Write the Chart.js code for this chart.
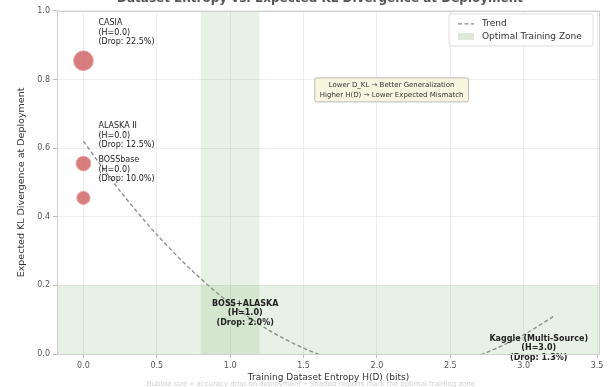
<!DOCTYPE html>
<html>
<head>
<meta charset="utf-8">
<script src="https://cdn.jsdelivr.net/npm/chart.js@4.4.0/dist/chart.umd.min.js"></script>
<style>
  html, body { margin: 0; padding: 0; background: #fff; }
  canvas { display: block; }
</style>
</head>
<body>
<canvas id="klChart" width="611" height="387"></canvas>
<script>
// training datasets
const datasetNames = ['CASIA', 'ALASKA II', 'BOSSbase', 'BOSS+ALASKA', 'Kaggle (Multi-Source)'];
const entropyBits = [0.0, 0.0, 0.0, 1.0, 3.0];
const expectedKL = [0.855, 0.555, 0.455, 0.147, 0.045];
const accuracyDrop = [22.5, 12.5, 10.0, 2.0, 1.3];

// dashed trend
const trendX = [0.0, 0.25, 0.5, 0.75, 1.0, 1.25, 1.5, 1.75, 2.0, 2.25, 2.5, 2.75, 3.0, 3.2];
const trendY = [0.620, 0.475, 0.348, 0.239, 0.147, 0.073, 0.017, -0.021, -0.041, -0.044, -0.028, 0.005, 0.056, 0.109];

// shaded zones
const optimalEntropy = [0.8, 1.2];
const optimalKL = [0.0, 0.2];

// axis ticks
const xTicks = [0.0, 0.5, 1.0, 1.5, 2.0, 2.5, 3.0, 3.5];
const yTicks = [0.0, 0.2, 0.4, 0.6, 0.8, 1.0];

const FONT = '"DejaVu Sans", sans-serif';
const zoneColor = 'rgba(120,170,100,0.17)';

function inZone(i) {
    return expectedKL[i] < optimalKL[1];
}

// bands, labels, note box, legend, title
const overlay = {
    id: 'overlay',
    beforeDraw(chart) {
        const ctx = chart.ctx;
        ctx.save();
        ctx.font = '7px ' + FONT;
        ctx.fillStyle = '#cfcfcf';
        ctx.textAlign = 'center';
        ctx.textBaseline = 'middle';
        ctx.fillText('Bubble size \u221d accuracy drop on deployment \u2022 Shaded regions mark the optimal training zone', 311, 384);
        ctx.restore();
    },
    beforeDatasetsDraw(chart) {
        const { ctx, chartArea: a, scales: { x, y } } = chart;
        ctx.save();
        ctx.fillStyle = zoneColor;
        const x0 = x.getPixelForValue(optimalEntropy[0]);
        const x1 = x.getPixelForValue(optimalEntropy[1]);
        ctx.fillRect(x0, a.top, x1 - x0, a.bottom - a.top);
        const y0 = y.getPixelForValue(optimalKL[0]);
        const y1 = y.getPixelForValue(optimalKL[1]);
        ctx.fillRect(a.left, y1, a.right - a.left, y0 - y1);
        ctx.restore();
    },
    afterDatasetsDraw(chart) {
        const { ctx, chartArea: a, scales: { x, y } } = chart;
        ctx.save();

        // point labels
        const lh = 9.5;
        entropyBits.forEach((h, i) => {
            const px = x.getPixelForValue(h);
            const py = y.getPixelForValue(expectedKL[i]);
            const lines = [datasetNames[i], '(H=' + h.toFixed(1) + ')', '(Drop: ' + accuracyDrop[i].toFixed(1) + '%)'];
            ctx.fillStyle = '#222';
            ctx.textBaseline = 'top';
            if (inZone(i)) {
                ctx.font = 'bold 8px ' + FONT;
                ctx.textAlign = 'center';
                lines.forEach((t, k) => ctx.fillText(t, px + 15, py - 4 + k * lh));
            } else {
                ctx.font = '8px ' + FONT;
                ctx.textAlign = 'left';
                const top = py - 13 - lines.length * lh;
                lines.forEach((t, k) => ctx.fillText(t, px + 15, top + k * lh));
            }
        });

        // note box
        const note = ['Lower D_KL \u2192 Better Generalization', 'Higher H(D) \u2192 Lower Expected Mismatch'];
        ctx.font = '7px ' + FONT;
        const nw = Math.max(...note.map(t => ctx.measureText(t).width)) + 10;
        const nh = 24;
        const nx = x.getPixelForValue(2.1);
        const ny = y.getPixelForValue(0.77);
        ctx.fillStyle = 'rgba(248,244,222,0.95)';
        ctx.strokeStyle = '#aaa';
        ctx.lineWidth = 0.8;
        ctx.beginPath();
        ctx.roundRect(nx - nw / 2, ny - nh / 2, nw, nh, 2);
        ctx.fill();
        ctx.stroke();
        ctx.fillStyle = '#333';
        ctx.textAlign = 'center';
        ctx.textBaseline = 'middle';
        ctx.fillText(note[0], nx, ny - 5);
        ctx.fillText(note[1], nx, ny + 5);

        // legend
        const lx = a.right - 151, ly = a.top + 3;
        ctx.fillStyle = 'rgba(255,255,255,0.85)';
        ctx.strokeStyle = '#d6d6d6';
        ctx.lineWidth = 0.8;
        ctx.beginPath();
        ctx.roundRect(lx, ly, 144, 32, 2);
        ctx.fill();
        ctx.stroke();
        ctx.strokeStyle = '#888';
        ctx.lineWidth = 1.3;
        ctx.setLineDash([4, 2.5]);
        ctx.beginPath();
        ctx.moveTo(lx + 9, ly + 10);
        ctx.lineTo(lx + 25, ly + 10);
        ctx.stroke();
        ctx.setLineDash([]);
        ctx.fillStyle = 'rgba(120,170,100,0.25)';
        ctx.fillRect(lx + 9, ly + 19, 16, 7);
        ctx.fillStyle = '#333';
        ctx.font = '9px ' + FONT;
        ctx.textAlign = 'left';
        ctx.textBaseline = 'middle';
        ctx.fillText('Trend', lx + 33, ly + 10);
        ctx.fillText('Optimal Training Zone', lx + 33, ly + 23);

        // frame
        ctx.strokeStyle = '#d0d0d0';
        ctx.lineWidth = 1;
        ctx.strokeRect(a.left + 0.5, a.top + 0.5, a.right - a.left - 1, a.bottom - a.top);

        // title, mostly cut off above the window
        ctx.fillStyle = '#555';
        ctx.font = 'bold 12px ' + FONT;
        ctx.textAlign = 'center';
        ctx.textBaseline = 'alphabetic';
        ctx.fillText('Dataset Entropy vs. Expected KL Divergence at Deployment', 320, 2);
        ctx.restore();
    }
};

const ctx = document.getElementById('klChart').getContext('2d');

const klChart = new Chart(ctx, {
    type: 'scatter',
    data: {
        datasets: [{
            label: 'Datasets',
            data: entropyBits.map((h, i) => ({ x: h, y: expectedKL[i] })),
            pointRadius: c => Math.sqrt(accuracyDrop[c.dataIndex]) * 2.1,
            backgroundColor: c => inZone(c.dataIndex) ? 'rgba(110,160,90,0.25)' : 'rgba(205,92,92,0.8)',
            borderColor: c => inZone(c.dataIndex) ? 'rgba(110,160,90,0)' : 'rgba(240,170,170,0.9)',
            borderWidth: 1
        }, {
            type: 'line',
            label: 'Trend',
            data: trendX.map((v, i) => ({ x: v, y: trendY[i] })),
            borderColor: '#8a8a8a',
            borderWidth: 1.3,
            borderDash: [4, 2.5],
            pointRadius: 0,
            tension: 0.3,
            fill: false
        }]
    },
    options: {
        responsive: false,
        animation: false,
        devicePixelRatio: 1,
        layout: { padding: { left: 0, right: 7, top: 10, bottom: 2 } },
        plugins: {
            legend: { display: false },
            tooltip: { enabled: false }
        },
        scales: {
            x: {
                type: 'linear',
                min: -0.18,
                max: 3.52,
                afterBuildTicks: s => { s.ticks = xTicks.map(v => ({ value: v })); },
                afterFit: s => { s.height = 31; s.paddingLeft = 0; s.paddingRight = 0; },
                ticks: {
                    callback: v => v.toFixed(1),
                    color: '#555',
                    font: { family: FONT, size: 8 },
                    padding: 3,
                    maxRotation: 0
                },
                grid: { color: '#e8e8e8', tickColor: '#aaa', tickLength: 4, lineWidth: 0.8 },
                border: { display: false },
                title: {
                    display: true,
                    text: 'Training Dataset Entropy H(D) (bits)',
                    color: '#333',
                    font: { family: FONT, size: 9 },
                    padding: { top: 0, bottom: 2 }
                }
            },
            y: {
                min: 0,
                max: 1.0,
                afterBuildTicks: s => { s.ticks = yTicks.map(v => ({ value: v })); },
                afterFit: s => { s.width = 57; s.paddingTop = 0; s.paddingBottom = 0; },
                ticks: {
                    callback: v => v.toFixed(1),
                    color: '#555',
                    font: { family: FONT, size: 8 },
                    padding: 3
                },
                grid: { color: '#e8e8e8', tickColor: '#aaa', tickLength: 4, lineWidth: 0.8 },
                border: { display: false },
                title: {
                    display: true,
                    text: 'Expected KL Divergence at Deployment',
                    color: '#333',
                    font: { family: FONT, size: 9.5 },
                    padding: { top: 16, bottom: 0 }
                }
            }
        }
    },
    plugins: [overlay]
});
</script>
</body>
</html>
